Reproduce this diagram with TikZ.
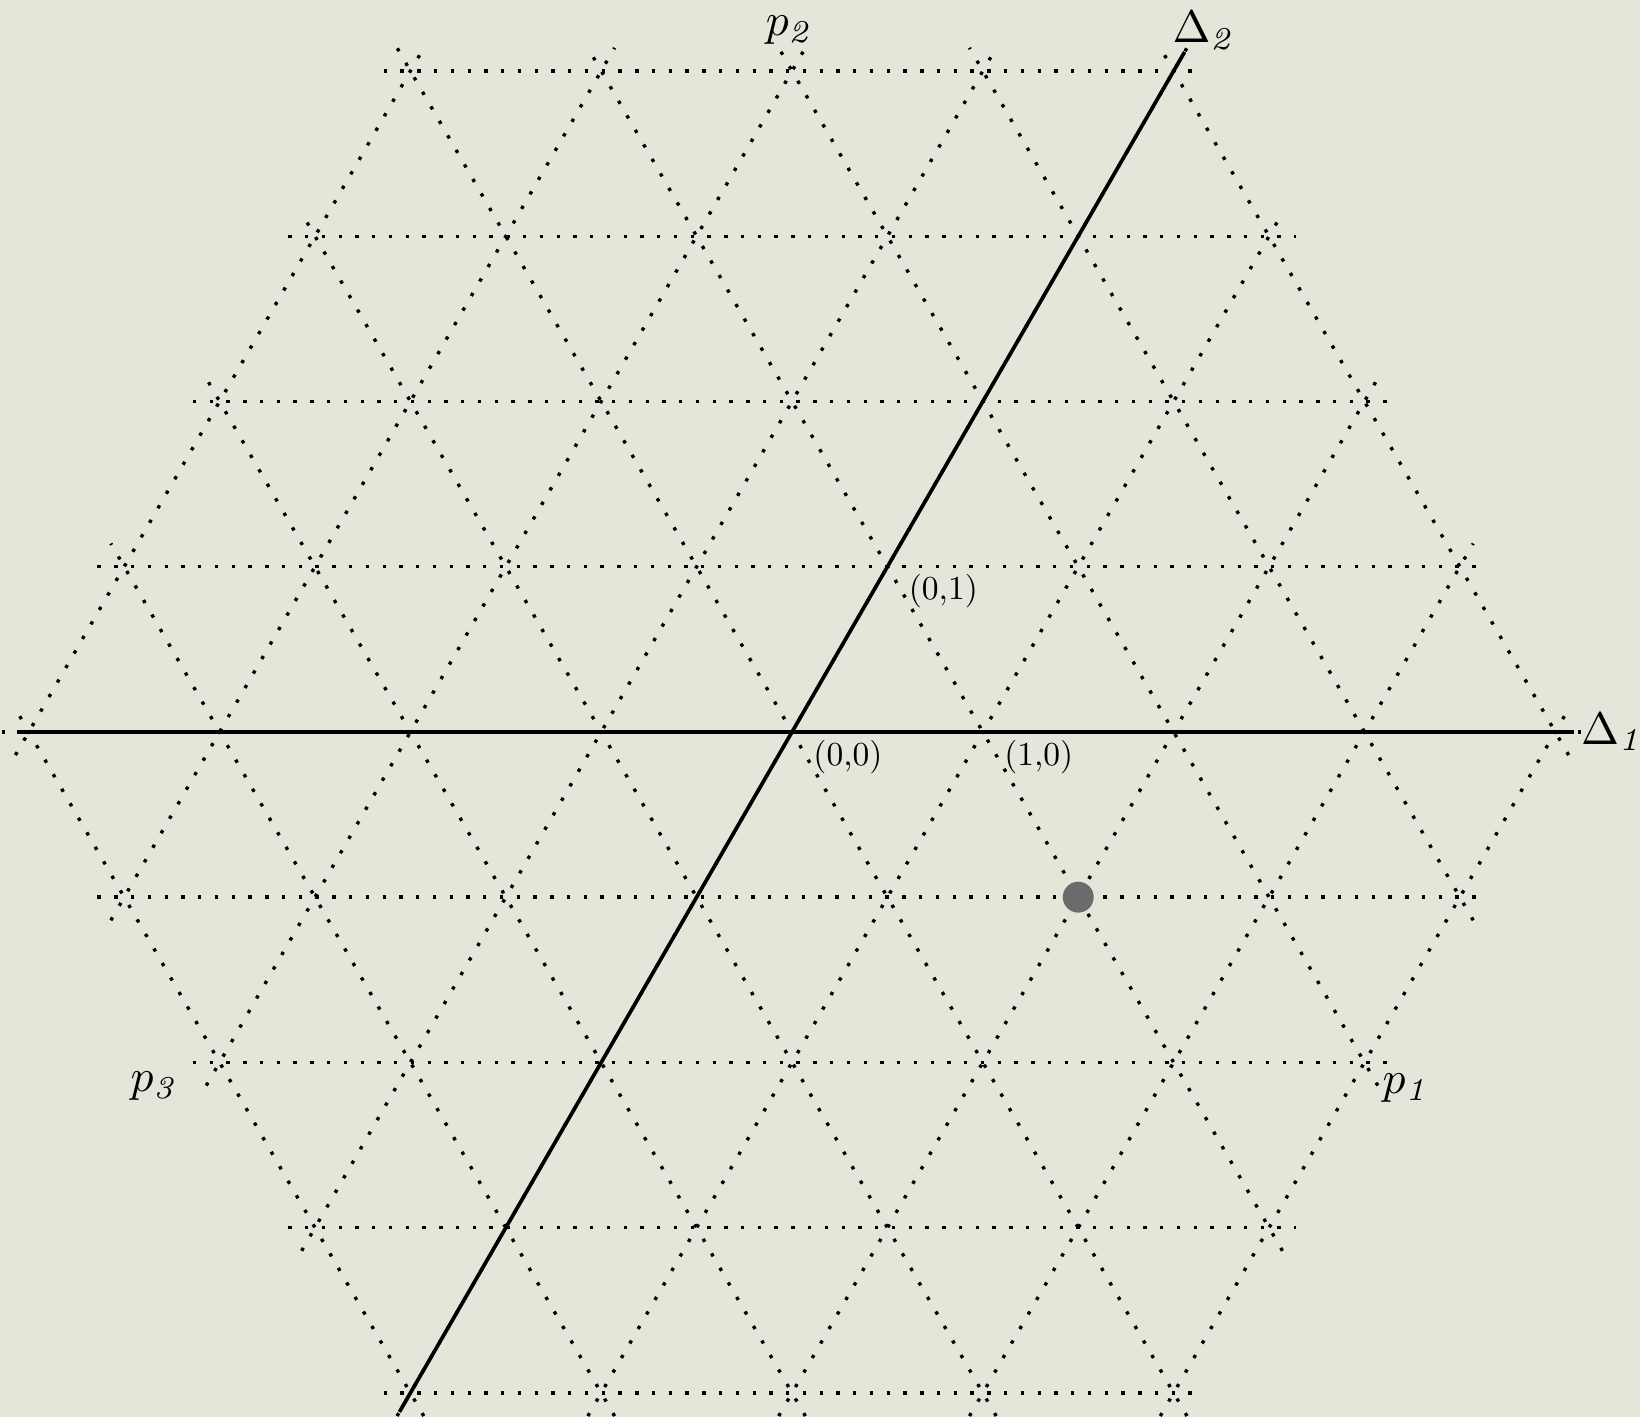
\documentclass[tikz,border=0pt]{standalone}
\usetikzlibrary{positioning}
\usepackage{xcolor}
\usepackage{amsmath}
\usepackage{amssymb}

\definecolor{paper}{RGB}{228,230,218}
\definecolor{dotgray}{RGB}{107,107,107}

\newcommand{\coordtxt}[1]{\scalebox{0.5}{#1}}
\newcommand{\axtxt}[1]{\scalebox{0.68}{#1}}

\begin{document}
\begin{tikzpicture}[latline/.style={dotted, line width=0.5pt},
    axis/.style={line width=0.55pt},
    lbl/.style={inner sep=0pt},
    coordlbl/.style={inner sep=1pt}]
    % Tlo

    \fill[paper] (-4.151,-3.590) rectangle (4.444,3.836);
    \clip (-4.151,-3.590) rectangle (4.444,3.836);

    % Siatka

    \foreach \a in {0,60,120}
        \foreach \k in {-4,...,4}
            \draw[latline, rotate=\a] ({-4+abs(\k)/2-0.14},{\k*sqrt(3)/2}) -- ({4-abs(\k)/2+0.14},{\k*sqrt(3)/2});

    % Punkty

    \coordinate (o) at (0,0);
    \coordinate (e1) at (1,0);
    \coordinate (e2) at (60:1);
    \coordinate (d1l) at (-4.06,0);
    \coordinate (d1r) at (4.10,0);
    \coordinate (d2b) at (240:4.115);
    \coordinate (d2t) at (60:4.115);

    % Osie

    \draw[axis] (d1l) -- (d1r);
    \draw[axis] (d2b) -- (d2t);

    \node[circle, fill=dotgray, inner sep=0pt, minimum size=0.162cm] (w) at (1.5,{-sqrt(3)/2}) {};

    % Etykiety

    \node[coordlbl, below right=0pt and 2pt of o] (lo) {\coordtxt{(0,0)}};
    \node[coordlbl, below right=0pt and 2pt of e1] (le1) {\coordtxt{(1,0)}};
    \node[coordlbl, below right=0pt and 2pt of e2] (le2) {\coordtxt{(0,1)}};
    \node[lbl, anchor=west, xshift=0.8pt] (ld1) at (d1r) {\axtxt{$\Delta_{\mathit{1}}$}};
    \node[lbl, anchor=base west, xshift=-2pt, yshift=1.4pt] (ld2) at (d2t) {\axtxt{$\Delta_{\mathit{2}}$}};
    \node[lbl] (lp1) at (3.223,-1.866) {\axtxt{$p_{\mathit{1}}$}};
    \node[lbl] (lp2) at (-0.01,3.679) {\axtxt{$p_{\mathit{2}}$}};
    \node[lbl] (lp3) at (-3.339,-1.855) {\axtxt{$p_{\mathit{3}}$}};

\end{tikzpicture}
\end{document}
